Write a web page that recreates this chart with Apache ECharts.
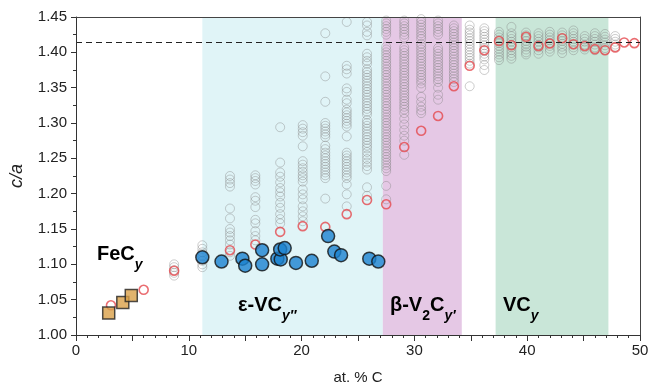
<!DOCTYPE html>
<html>
<head>
<meta charset="utf-8">
<script src="https://cdn.jsdelivr.net/npm/echarts@6/dist/echarts.min.js"></script>
<style>
  html, body { margin: 0; padding: 0; background: #fff; }
  #chart { width: 652px; height: 390px; }
</style>
</head>
<body>
<div id="chart"></div>
<script>
// columns of computed structures (grey open circles)
const grayX = [8.7, 11.2, 13.65, 15.9, 18.1, 20.1, 22.1, 24.0, 25.8, 27.5, 29.1, 30.6, 32.1, 33.5, 34.9, 36.2,
  37.5, 38.6, 39.9, 41.0, 42.0, 43.1, 44.1, 45.1, 46.0, 46.9, 47.8]
const grayCa = [
  [1.100, 1.096, 1.092, 1.088, 1.084],
  [1.127, 1.122, 1.117, 1.112, 1.105, 1.100, 1.096],
  [1.225, 1.220, 1.215, 1.210, 1.179, 1.165, 1.150, 1.145, 1.140, 1.134, 1.128, 1.117, 1.112],
  [1.226, 1.222, 1.218, 1.213, 1.195, 1.190, 1.181, 1.163, 1.158, 1.147, 1.140, 1.134],
  [1.294, 1.244, 1.230, 1.224, 1.216, 1.208, 1.202, 1.196, 1.187, 1.180, 1.171, 1.164, 1.158],
  [1.297, 1.292, 1.287, 1.282, 1.267, 1.246, 1.241, 1.236, 1.231, 1.226, 1.222, 1.217, 1.206, 1.199, 1.192,
    1.182, 1.175, 1.168, 1.161],
  [1.427, 1.366, 1.330, 1.300, 1.296, 1.292, 1.288, 1.284, 1.280, 1.268, 1.263, 1.258, 1.254, 1.250, 1.246,
    1.242, 1.238, 1.234, 1.230, 1.226, 1.222, 1.193],
  [1.443, 1.381, 1.376, 1.370, 1.349, 1.344, 1.333, 1.328, 1.319, 1.315, 1.311, 1.307, 1.303, 1.299, 1.295,
    1.281, 1.258, 1.254, 1.250, 1.246, 1.242, 1.238, 1.234, 1.230, 1.226, 1.222, 1.213, 1.199, 1.182],
  [1.443, 1.438, 1.429, 1.424, 1.398, 1.393, 1.388, 1.384, 1.376, 1.372, 1.368, 1.364, 1.360, 1.356, 1.352,
    1.348, 1.344, 1.340, 1.336, 1.332, 1.328, 1.324, 1.320, 1.316, 1.312, 1.304, 1.300, 1.296, 1.292, 1.288,
    1.284, 1.280, 1.276, 1.272, 1.268, 1.264, 1.259, 1.254, 1.249, 1.244, 1.239, 1.234, 1.209, 1.197],
  [1.445, 1.441, 1.437, 1.433, 1.429, 1.425, 1.408, 1.404, 1.400, 1.396, 1.392, 1.388, 1.384, 1.380, 1.376,
    1.372, 1.368, 1.364, 1.360, 1.356, 1.352, 1.348, 1.344, 1.340, 1.336, 1.332, 1.328, 1.324, 1.320, 1.316,
    1.312, 1.308, 1.304, 1.300, 1.296, 1.292, 1.288, 1.284, 1.280, 1.276, 1.272, 1.268, 1.264, 1.260, 1.256,
    1.252, 1.248, 1.244, 1.240, 1.236, 1.232, 1.211, 1.192],
  [1.445, 1.441, 1.437, 1.433, 1.429, 1.425, 1.421, 1.407, 1.403, 1.399, 1.395, 1.391, 1.387, 1.383, 1.379,
    1.375, 1.371, 1.367, 1.363, 1.359, 1.355, 1.351, 1.347, 1.343, 1.339, 1.335, 1.331, 1.327, 1.323, 1.319,
    1.314, 1.306, 1.298, 1.290, 1.282, 1.275, 1.255],
  [1.447, 1.443, 1.439, 1.435, 1.431, 1.427, 1.423, 1.419, 1.412, 1.408, 1.404, 1.400, 1.396, 1.392, 1.388,
    1.384, 1.380, 1.376, 1.372, 1.368, 1.364, 1.360, 1.356, 1.350, 1.337, 1.330, 1.323, 1.318, 1.314],
  [1.445, 1.441, 1.437, 1.433, 1.429, 1.425, 1.406, 1.402, 1.398, 1.394, 1.390, 1.386, 1.382, 1.378, 1.374,
    1.370, 1.366, 1.362, 1.358, 1.350, 1.340, 1.333],
  [1.438, 1.434, 1.430, 1.426, 1.422, 1.418, 1.414, 1.410, 1.406, 1.402, 1.398, 1.394, 1.390, 1.386, 1.382,
    1.378, 1.374, 1.370, 1.366, 1.362, 1.358],
  [1.438, 1.432, 1.428, 1.424, 1.420, 1.416, 1.412, 1.408, 1.404, 1.400, 1.396, 1.392, 1.388, 1.384, 1.352],
  [1.434, 1.430, 1.426, 1.422, 1.418, 1.414, 1.410, 1.406, 1.402, 1.398, 1.394, 1.390, 1.382, 1.375],
  [1.429, 1.425, 1.421, 1.417, 1.413, 1.409, 1.405, 1.401, 1.397, 1.393, 1.389],
  [1.436, 1.427, 1.423, 1.419, 1.415, 1.411, 1.407, 1.403, 1.399, 1.395, 1.391],
  [1.428, 1.424, 1.420, 1.416, 1.412, 1.408, 1.404, 1.400, 1.397],
  [1.427, 1.423, 1.419, 1.415, 1.411, 1.407, 1.403, 1.398],
  [1.429, 1.425, 1.421, 1.417, 1.413, 1.409, 1.405, 1.401],
  [1.428, 1.424, 1.420, 1.416, 1.412, 1.408, 1.404, 1.399],
  [1.431, 1.427, 1.423, 1.419, 1.415, 1.411, 1.407, 1.403],
  [1.423, 1.419, 1.415, 1.411, 1.407, 1.404],
  [1.427, 1.423, 1.419, 1.415, 1.411, 1.407, 1.403],
  [1.426, 1.422, 1.418, 1.414, 1.410, 1.406, 1.403],
  [1.423, 1.419, 1.415, 1.411, 1.408]
]

// lowest-energy structures (red open circles)
const redX = [3.1, 6.0, 8.7, 13.65, 15.9, 18.1, 20.1, 22.1, 24.0, 25.8, 27.5, 29.1, 30.6, 32.1, 33.5, 34.9,
  36.2, 37.5, 38.6, 39.9, 41.0, 42.0, 43.1, 44.1, 45.1, 46.0, 46.9, 47.8, 48.6, 49.5]
const redCa = [1.042, 1.064, 1.091, 1.120, 1.128, 1.146, 1.154, 1.153, 1.171, 1.191, 1.185, 1.266, 1.289, 1.310,
  1.352, 1.381, 1.403, 1.416, 1.410, 1.422, 1.409, 1.4125, 1.420, 1.4115, 1.409, 1.4045, 1.403, 1.407, 1.414, 1.413]

// epsilon-VC experimental (blue)
const epsX = [11.2, 12.9, 14.75, 15.0, 16.5, 16.5, 17.85, 18.15, 18.1, 18.5, 19.5, 20.9, 22.35, 22.9, 23.5, 26.0, 26.8]
const epsCa = [1.110, 1.104, 1.108, 1.098, 1.120, 1.100, 1.108, 1.107, 1.121, 1.123, 1.102, 1.105, 1.140, 1.118,
  1.113, 1.108, 1.104]

// FeC experimental (orange squares)
const feX = [2.9, 4.15, 4.9]
const feCa = [1.031, 1.046, 1.056]

// phase bands and ideal ratio
const bands = [[11.2, 27.2, '#e0f4f7'], [27.2, 34.2, '#e5c8e5'], [37.2, 47.2, '#c9e6d8']]
const idealCa = 1.414

const grayData = []
grayX.forEach((x, i) => grayCa[i].forEach(v => grayData.push([x, v])))
const zip = (xs, ys) => xs.map((x, i) => [x, ys[i]])

const font = '"Liberation Sans", Arial, sans-serif'
const chart = echarts.init(document.getElementById('chart'))

const sub = { fontFamily: font, fontWeight: 'bold', fontStyle: 'italic', fontSize: 14, color: '#111', padding: [22, 0, 0, 0] }
const big = { fontFamily: font, fontWeight: 'bold', fontSize: 20, color: '#111' }
const sub2 = { fontFamily: font, fontWeight: 'bold', fontSize: 14, color: '#111', padding: [22, 0, 0, 0] }

chart.setOption({
  animation: false,
  grid: { left: 75.5, right: 12, top: 17, bottom: 54 },
  xAxis: [{
    type: 'value', min: 0, max: 50, interval: 5, z: 10,
    name: 'at. % C', nameLocation: 'middle', nameGap: 35,
    nameTextStyle: { fontFamily: font, fontSize: 15, color: '#222' },
    axisLine: { lineStyle: { color: '#333' } },
    axisTick: { length: 6, lineStyle: { color: '#333' } },
    minorTick: { show: true, splitNumber: 5, length: 3, lineStyle: { color: '#333' } },
    axisLabel: { fontFamily: font, fontSize: 15, color: '#222', margin: 8, formatter: v => (v % 10 === 0 ? v : '') },
    splitLine: { show: false }
  }, {
    type: 'value', min: 0, max: 50, position: 'top', z: 10,
    axisLine: { show: true, onZero: false, lineStyle: { color: '#444' } },
    axisTick: { show: false }, axisLabel: { show: false }, splitLine: { show: false }
  }],
  yAxis: [{
    type: 'value', min: 1.0, max: 1.45, interval: 0.05, z: 10,
    name: 'c/a', nameLocation: 'middle', nameGap: 50,
    nameTextStyle: { fontFamily: font, fontSize: 18, fontStyle: 'italic', color: '#222' },
    axisLine: { show: true, lineStyle: { color: '#333' } },
    axisTick: { length: 5, lineStyle: { color: '#333' } },
    minorTick: { show: true, splitNumber: 2, length: 3, lineStyle: { color: '#333' } },
    axisLabel: { fontFamily: font, fontSize: 15, color: '#222', margin: 9, formatter: v => v.toFixed(2) },
    splitLine: { show: false }
  }, {
    type: 'value', min: 1.0, max: 1.45, position: 'right', z: 10,
    axisLine: { show: true, onZero: false, lineStyle: { color: '#444' } },
    axisTick: { show: false }, axisLabel: { show: false }, splitLine: { show: false }
  }],
  series: [
    {
      type: 'scatter', data: [], z: 1, silent: true,
      markArea: {
        silent: true,
        data: bands.map(b => [{ xAxis: b[0], itemStyle: { color: b[2] } }, { xAxis: b[1] }])
      }
    },
    {
      type: 'scatter', data: grayData, z: 2, symbolSize: 9, silent: true,
      itemStyle: { color: 'rgba(0,0,0,0)', borderColor: 'rgba(130,130,130,0.5)', borderWidth: 1 }
    },
    {
      type: 'scatter', data: [], z: 3, silent: true,
      markLine: {
        silent: true, symbol: 'none', label: { show: false },
        lineStyle: { color: '#222', type: [6, 4], width: 1 },
        data: [[{ coord: [0, idealCa] }, { coord: [50, idealCa] }]]
      }
    },
    {
      type: 'scatter', data: zip(redX, redCa), z: 4, symbolSize: 9,
      itemStyle: { color: 'rgba(0,0,0,0)', borderColor: '#e5484d', borderWidth: 1.6 }
    },
    {
      type: 'scatter', data: zip(epsX, epsCa), z: 5, symbolSize: 13,
      itemStyle: { color: '#1b82cf', borderColor: '#111', borderWidth: 1.5 }
    },
    {
      type: 'scatter', data: zip(feX, feCa), z: 5, symbol: 'rect', symbolSize: 12,
      itemStyle: { color: '#d9a049', borderColor: '#222', borderWidth: 1.5 }
    }
  ],
  graphic: [
    { type: 'text', left: 97, top: 244, z: 20, style: { text: '{a|FeC}{s|y}', rich: { a: big, s: sub } } },
    { type: 'text', left: 238, top: 295, z: 20, style: { text: '{a|ε-VC}{s|y\u2033}', rich: { a: big, s: sub } } },
    { type: 'text', left: 390, top: 295, z: 20, style: { text: '{a|β-V}{n|2}{a|C}{s|y\u2032}', rich: { a: big, s: sub, n: sub2 } } },
    { type: 'text', left: 503, top: 295, z: 20, style: { text: '{a|VC}{s|y}', rich: { a: big, s: sub } } }
  ]
})
</script>
</body>
</html>
